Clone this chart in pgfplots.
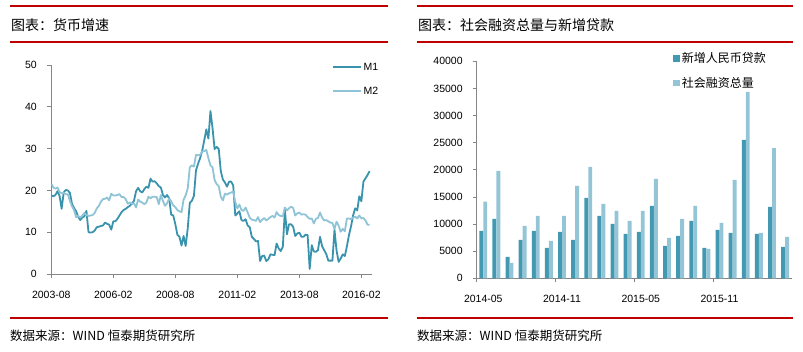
\documentclass[border=0pt]{standalone}
\usepackage{pgfplots}
\usepackage{pgfplotstable}
\pgfplotsset{compat=1.18}
\usepackage{fontspec}
\setmainfont{Liberation Sans}
\newfontfamily\cjk{Noto Sans CJK SC}
\definecolor{mdark}{HTML}{3A93AD}
\definecolor{mlight}{HTML}{8EC4D6}
\definecolor{bdark}{HTML}{4299B1}
\definecolor{blight}{HTML}{93C5D6}
\definecolor{redl}{HTML}{C00000}
\definecolor{axgray}{HTML}{868686}

\pgfplotstableread{
m m1 m2
0 18.8 21.6
1 18.6 20.7
2 18.9 20.4
3 19.8 20.7
4 18.7 19.6
5 15.6 19.3
6 19.5 19.4
7 20.1 19.1
8 20.0 19.1
9 19.4 17.5
10 16.8 16.2
11 15.8 15.3
12 15.0 13.6
13 13.7 13.9
14 12.9 13.5
15 13.5 14.0
16 13.8 14.6
17 15.1 14.1
18 10.0 13.9
19 9.9 14.0
20 10.0 14.1
21 10.4 14.6
22 11.2 15.7
23 11.3 16.3
24 11.5 17.3
25 11.6 17.9
26 12.3 18.0
27 12.0 18.3
28 11.8 17.6
29 10.6 19.2
30 12.6 18.8
31 12.6 18.8
32 13.2 18.9
33 14.0 19.1
34 14.8 18.4
35 15.3 18.4
36 15.6 17.9
37 16.0 16.8
38 16.3 17.1
39 16.8 16.8
40 17.5 16.9
41 19.8 15.9
42 20.6 17.8
43 19.8 17.3
44 19.5 17.1
45 20.3 16.7
46 20.9 17.1
47 20.6 18.5
48 22.8 18.1
49 22.1 18.5
50 22.2 18.5
51 21.7 18.4
52 21.0 16.7
53 20.7 18.9
54 18.9 17.5
55 18.3 16.3
56 18.9 16.9
57 18.1 18.1
58 14.2 17.4
59 14.0 16.4
60 11.9 16.0
61 9.4 15.3
62 8.9 15.0
63 6.8 14.8
64 9.1 17.8
65 6.7 18.8
66 10.9 20.5
67 17.0 25.5
68 17.5 26.0
69 18.7 25.7
70 24.8 28.5
71 26.4 28.4
72 27.7 28.5
73 29.5 29.3
74 32.0 29.4
75 34.6 29.7
76 32.4 27.7
77 39.0 26.0
78 34.9 25.5
79 29.9 22.5
80 30.4 21.5
81 29.9 21.0
82 24.6 18.5
83 22.6 17.6
84 21.9 19.2
85 20.9 19.0
86 22.1 19.3
87 22.1 19.5
88 21.2 19.7
89 14.0 17.2
90 14.5 15.7
91 15.0 16.6
92 12.9 15.3
93 12.7 15.1
94 13.1 15.9
95 11.6 14.7
96 11.2 13.5
97 8.9 13.0
98 8.4 12.9
99 7.8 12.7
100 7.9 13.6
101 3.1 12.4
102 4.3 13.0
103 4.4 13.4
104 3.1 12.8
105 3.5 13.2
106 4.7 13.6
107 4.6 13.9
108 4.5 13.5
109 7.3 14.8
110 6.1 14.1
111 5.5 13.9
112 6.5 13.8
113 15.3 15.9
114 9.5 15.2
115 11.9 15.7
116 11.9 16.1
117 11.3 15.8
118 9.1 14.0
119 9.7 14.5
120 9.9 14.7
121 8.9 14.2
122 8.9 14.3
123 9.4 14.2
124 9.3 13.6
125 1.2 13.2
126 6.9 13.3
127 5.4 12.1
128 5.3 13.2
129 5.7 13.4
130 8.9 14.7
131 6.7 13.5
132 5.7 12.8
133 4.8 12.9
134 3.2 12.6
135 3.2 12.3
136 3.2 12.2
137 10.6 10.8
138 5.6 12.5
139 2.9 11.6
140 3.7 10.1
141 4.7 10.8
142 4.3 10.2
143 6.6 13.3
144 9.3 13.3
145 11.4 13.1
146 14.0 13.5
147 15.7 13.7
148 15.2 13.3
149 18.6 14.0
150 17.4 13.3
151 22.1 13.4
152 22.9 12.8
153 23.7 11.8
154 24.6 11.8
}\moneytable

\pgfplotstableread{
c loan tsf
0 8720 14130
1 10940 19780
2 3930 2830
3 7070 9650
4 8720 11490
5 5590 6880
6 8540 11490
7 7070 17020
8 14810 20520
9 11490 13700
10 10020 12410
11 8170 10570
12 8540 12410
13 13330 18310
14 5960 7430
15 7800 10940
16 10570 13330
17 5590 5410
18 8910 10200
19 8360 18130
20 25500 34350
21 8170 8360
22 13150 24000
23 5780 7620
}\bartable

\begin{document}
\begin{tikzpicture}[x=1pt,y=1pt]
\useasboundingbox (0,0) rectangle (803,352);
% red rules
\foreach \yy in {346,310,34}{
  \draw[redl, line width=1.2pt] (10,\yy) -- (388,\yy);
  \draw[redl, line width=1.2pt] (417,\yy) -- (793,\yy);
}
\node[anchor=west, inner sep=0, font=\cjk\fontsize{14}{14}\selectfont] at (11,327) {图表：货币增速};
\node[anchor=west, inner sep=0, font=\cjk\fontsize{14}{14}\selectfont] at (418,327) {图表：社会融资总量与新增贷款};
\node[anchor=west, inner sep=0, font=\cjk\fontsize{12.5}{12.5}\selectfont] at (10,16) {数据来源：WIND 恒泰期货研究所};
\node[anchor=west, inner sep=0, font=\cjk\fontsize{12.5}{12.5}\selectfont] at (417,16) {数据来源：WIND 恒泰期货研究所};

\begin{axis}[
  scale only axis, width=320.4pt, height=209pt,
  at={(51.3pt,78pt)}, anchor=south west,
  xmin=0, xmax=155, ymin=0, ymax=50,
  axis x line*=bottom, axis y line*=left,
  axis line style={axgray, line width=0.8pt},
  tick align=outside, major tick length=4pt,
  every tick/.style={axgray, line width=0.8pt},
  xtick={0,30,60,90,120,150},
  xticklabels={2003-08,2006-02,2008-08,2011-02,2013-08,2016-02},
  ytick={0,10,20,30,40,50},
  ticklabel style={font=\fontsize{10.5}{12}\selectfont, text=black},
  xticklabel style={yshift=-9.5pt},
  yticklabel style={xshift=-7pt},
  /pgf/number format/assume math mode=true,
  legend style={draw=none, fill=none, at={(0.875,1.02)}, anchor=north west,
    font=\fontsize{10.5}{12}\selectfont, row sep=11pt, inner sep=0pt},
  legend cell align=left,
  legend image code/.code={\draw[#1] (0pt,0pt) -- (28pt,0pt);},
]
\addplot[mdark, line width=1.8pt, line join=round] table[x=m,y=m1] {\moneytable};
\addplot[mlight, line width=1.8pt, line join=round] table[x=m,y=m2] {\moneytable};
\legend{M1,M2}
\end{axis}

\begin{axis}[
  scale only axis, width=315pt, height=217pt,
  at={(476.7pt,73.7pt)}, anchor=south west,
  xmin=-0.5, xmax=23.5, ymin=0, ymax=40000,
  axis x line*=bottom, axis y line*=left,
  axis line style={axgray, line width=0.8pt},
  tick align=outside, major tick length=4pt,
  every tick/.style={axgray, line width=0.8pt},
  ybar, bar width=3.9pt,
  xtick={-0.5,5.5,11.5,17.5}, xticklabels={},
  extra x ticks={0,6,12,18},
  extra x tick labels={2014-05,2014-11,2015-05,2015-11},
  extra x tick style={major tick length=0pt, xticklabel style={yshift=-13pt}},
  ytick={0,5000,...,40000}, scaled y ticks=false,
  ticklabel style={font=\fontsize{10.5}{12}\selectfont, text=black},
  yticklabel style={xshift=-6.5pt},
  /pgf/number format/assume math mode=true,
  /pgf/number format/1000 sep={},
  legend style={draw=none, fill=none, at={(0.623,1.05)}, anchor=north west,
    font=\cjk\fontsize{12}{13}\selectfont, row sep=9pt, inner sep=0pt},
  legend cell align=left,
  legend image code/.code={\fill[#1] (0pt,-3.3pt) rectangle (6.6pt,3.3pt);},
]
\addplot[fill=bdark, draw=none, bar shift=-1.95pt] table[x=c,y=loan] {\bartable};
\addplot[fill=blight, draw=none, bar shift=1.95pt] table[x=c,y=tsf] {\bartable};
\legend{新增人民币贷款,社会融资总量}
\end{axis}
\end{tikzpicture}
\end{document}
